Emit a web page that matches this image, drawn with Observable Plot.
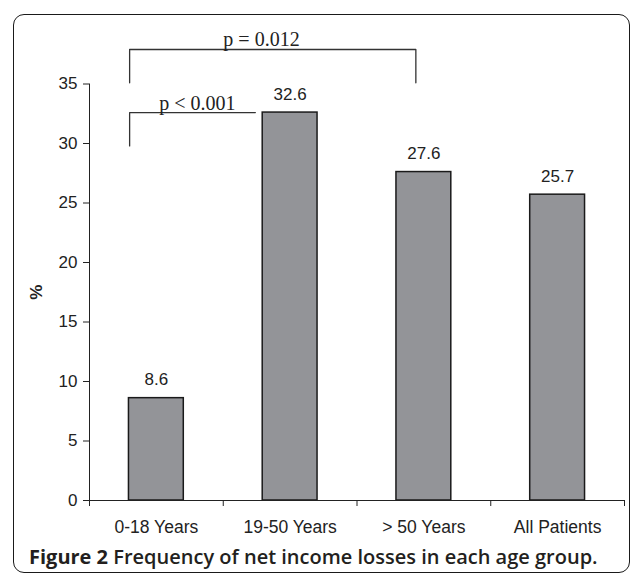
<!DOCTYPE html>
<html><head><meta charset="utf-8">
<script src="https://cdn.jsdelivr.net/npm/d3@7"></script>
<script src="https://cdn.jsdelivr.net/npm/@observablehq/plot@0.6"></script>
<style>
html,body{margin:0;padding:0;background:#fff;}
body{width:632px;height:575px;overflow:hidden;position:relative;}
#frame{position:absolute;left:13px;top:14px;width:617px;height:559px;border:1.5px solid #1a1a1a;border-radius:11px;box-sizing:border-box;}
#chart{position:absolute;left:0;top:0;}
#chart svg{background:transparent !important;}
#chart [aria-label="y-axis label"] text, #chart [aria-label="y-axis label"]{font-weight:bold;}
#caption{position:absolute;left:29px;top:543px;font-family:"Open Sans",sans-serif;font-size:20px;color:#231f20;font-weight:600;white-space:nowrap;}
#caption b{font-weight:700;}
</style></head><body>
<div id="frame"></div>
<div id="chart"></div>
<div id="caption"><b>Figure 2</b> Frequency of net income losses in each age group.</div>
<script>
const categories = ["0-18 Years", "19-50 Years", "> 50 Years", "All Patients"];
const values = [8.6, 32.6, 27.6, 25.7];
const yTicks = [0, 5, 10, 15, 20, 25, 30, 35];
const boundaryTicks = [-0.5, 0.5, 1.5, 2.5, 3.5];

// significance brackets (x in category-index units, y in %)
const bracketLabels = ["p = 0.012", "p < 0.001"];
const bracketX1 = [-0.2, -0.2];
const bracketX2 = [1.94, 0.74];
const bracketTop = [37.9, 32.6];
const bracketBottom = [35.1, 29.8];
const bracketRightLeg = [true, false];
const bracketLabelX = [0.786, 0.307];

const data = categories.map((c, i) => ({i, category: c, value: values[i]}));

const bracketPts = [];
bracketLabels.forEach((lab, k) => {
  bracketPts.push({k, x: bracketX1[k], y: bracketBottom[k]});
  bracketPts.push({k, x: bracketX1[k], y: bracketTop[k]});
  bracketPts.push({k, x: bracketX2[k], y: bracketTop[k]});
  if (bracketRightLeg[k]) bracketPts.push({k, x: bracketX2[k], y: bracketBottom[k]});
});
const bracketText = bracketLabels.map((lab, k) => ({label: lab, x: bracketLabelX[k], y: bracketTop[k]}));

const halfBar = 0.205;
const ink = "#222";

const chart = Plot.plot({
  width: 632,
  height: 540,
  marginLeft: 89,
  marginRight: 8,
  marginTop: 83.5,
  marginBottom: 40,
  style: {fontFamily: "'Liberation Sans', Arial, sans-serif", fontSize: "17px", color: ink, background: "transparent"},
  x: {domain: [-0.5, 3.5]},
  y: {domain: [0, 35]},
  marks: [
    Plot.rectY(data, {x1: d => d.i - halfBar, x2: d => d.i + halfBar, y: "value", fill: "#939498", stroke: "#1a1a1a", strokeWidth: 1.5}),
    Plot.ruleY([0], {stroke: ink, strokeWidth: 1}),
    Plot.ruleX([-0.5], {y1: 0, y2: 35, stroke: ink, strokeWidth: 1}),
    Plot.axisY({ticks: yTicks, tickSize: 6, tickPadding: 6, fontSize: 17, label: "%", labelAnchor: "center", labelOffset: 60, labelArrow: "none", stroke: ink}),
    Plot.axisX({ticks: boundaryTicks, tickSize: 6, tickFormat: () => "", label: null, stroke: ink}),
    Plot.axisX({ticks: [0, 1, 2, 3], tickSize: 0, tickPadding: 20, tickFormat: i => categories[i], label: null, fontSize: 17.5}),
    Plot.text(data, {x: "i", y: "value", text: d => d.value.toFixed(1), lineAnchor: "bottom", dy: -13, fontSize: 17, fill: ink}),
    Plot.line(bracketPts, {x: "x", y: "y", z: "k", stroke: "#333", strokeWidth: 1.3, curve: "linear"}),
    Plot.text(bracketText, {x: "x", y: "y", text: "label", lineAnchor: "bottom", dy: -3, fontFamily: "'Liberation Serif', 'Times New Roman', serif", fontSize: 20, fill: ink})
  ]
});
document.getElementById("chart").appendChild(chart);
</script>
</body></html>
